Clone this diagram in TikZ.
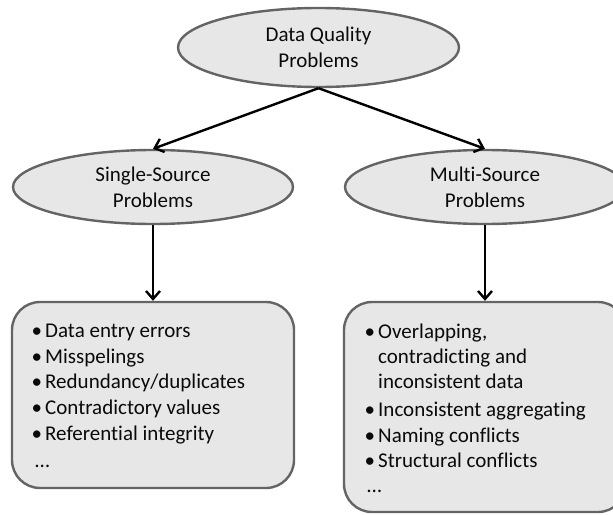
\documentclass[tikz,border=0pt]{standalone}
\usepackage{fontspec}
\setmainfont{Carlito}[Ligatures=NoCommon]
\usetikzlibrary{shapes.geometric,arrows.meta}
\definecolor{boxfill}{RGB}{231,231,231}
\definecolor{boxline}{RGB}{100,100,100}
\definecolor{txt}{RGB}{10,10,10}
\begin{document}
\begin{tikzpicture}[x=1pt,y=-1pt,
  oval/.style={ellipse, draw=boxline, line width=2.4pt, fill=boxfill, minimum width=280pt,
    minimum height=74pt, inner sep=0pt, align=center, text=txt,
    font=\fontsize{21}{26}\selectfont},
  listbox/.style={draw=boxline, line width=2.4pt, fill=boxfill, rounded corners=28pt,
    minimum width=282pt, inner sep=0pt},
  item/.style={anchor=base west, inner sep=0pt, text=txt, font=\fontsize{21}{25.6}\selectfont},
  conn/.style={line width=2.4pt, black, -{Straight Barb[length=8pt,width=14pt]}}]
\useasboundingbox (0,0) rectangle (613,514);
\clip (0,0) rectangle (613,514);

\node[oval, minimum width=281pt, minimum height=79pt] (top) at (318.5,47.5) {Data Quality\\Problems};
\node[oval] (single) at (153,187) {Single-Source\\Problems};
\node[oval] (multi) at (485,187) {Multi-Source\\Problems};

\node[listbox, minimum height=186pt] (slist) at (153,395) {};
\node[listbox, minimum height=210pt] (mlist) at (485,407) {};

\draw[conn] (top.south) -- (single.north);
\draw[conn] (top.south) -- (multi.north);
\draw[conn] (single.south) -- (slist.north);
\draw[conn] (multi.south) -- (mlist.north);

\node[item] (s1) at (45,337) {\llap{•\hspace{3pt}}Data entry errors};
\node[item] (s2) at (45,363) {\llap{•\hspace{3pt}}Misspelings};
\node[item] (s3) at (45,388) {\llap{•\hspace{3pt}}Redundancy/duplicates};
\node[item] (s4) at (45,414) {\llap{•\hspace{3pt}}Contradictory values};
\node[item] (s5) at (45,440) {\llap{•\hspace{3pt}}Referential integrity};
\node[item] (s6) at (35,467) {…};

\node[item] (m1) at (378,338) {\llap{•\hspace{3pt}}Overlapping,};
\node[item] (m2) at (378,363) {contradicting and};
\node[item] (m3) at (378,388) {inconsistent data};
\node[item] (m4) at (378,416) {\llap{•\hspace{3pt}}Inconsistent aggregating};
\node[item] (m5) at (378,442) {\llap{•\hspace{3pt}}Naming conflicts};
\node[item] (m6) at (378,467) {\llap{•\hspace{3pt}}Structural conflicts};
\node[item] (m7) at (367,492) {…};
\end{tikzpicture}
\end{document}
